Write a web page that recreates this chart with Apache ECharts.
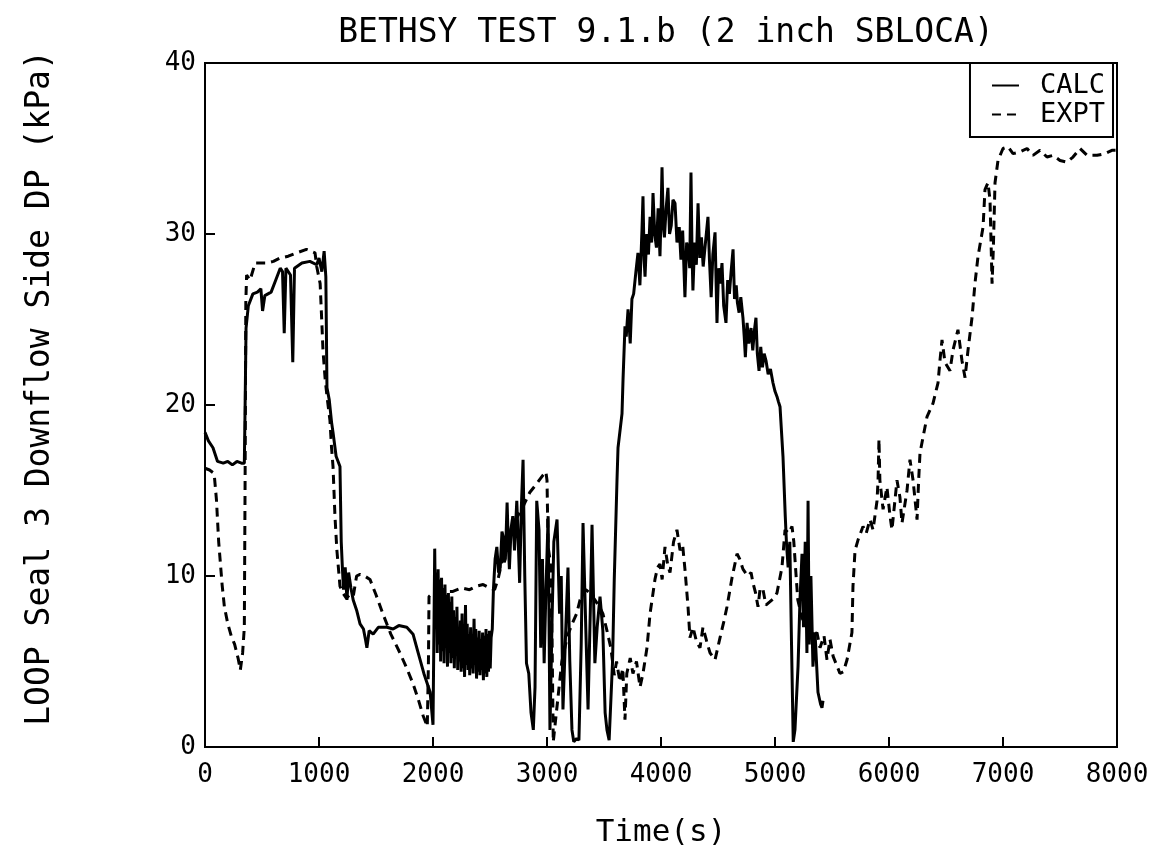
<!DOCTYPE html>
<html><head><meta charset="utf-8">
<script src="https://cdn.jsdelivr.net/npm/echarts@6/dist/echarts.min.js"></script>
<style>html,body{margin:0;padding:0;background:#fff}#c{width:1158px;height:860px}</style>
</head><body><div id="c"></div>
<script>
const titleText = 'BETHSY TEST 9.1.b (2 inch SBLOCA)';
const yName = 'LOOP Seal 3 Downflow Side DP (kPa)';
const xName = 'Time(s)';
const seriesNames = ['CALC', 'EXPT'];
const xTicks = [0, 1000, 2000, 3000, 4000, 5000, 6000, 7000, 8000];
const yTicks = [0, 10, 20, 30, 40];

const calcT = [0,30,70,110,160,200,240,280,320,345,352,360,380,420,460,490,505,525,580,620,660,680,695,710,750,770,785,850,920,980,1000,1025,1045,1060,1070,1090,1110,1123,1150,1184,1195,1205,1215,1230,1245,1260,1280,1300,1330,1360,1390,1410,1420,1440,1475,1520,1595,1650,1700,1770,1825,1870,1920,1975,2000,2010,
  2015,2022,2030,2037,2045,2052,2060,2067,2075,2082,2090,2097,2105,2112,2120,2127,2135,2142,2150,2157,2165,2172,2180,2187,2195,2202,2210,2217,2225,2232,2240,2247,2255,2262,2270,2277,2285,2292,2300,2307,2315,2322,2330,2337,2345,2352,2360,2367,2375,2382,2390,2397,2405,2412,2420,2427,2435,2442,2450,2457,2465,2472,2480,2487,2495,2502,2510,2520,
  2530,2545,2560,2575,2590,2605,2615,2625,2635,2650,2660,2670,2685,2700,2715,2735,2748,2760,2775,2790,2805,2820,2840,2860,2880,2895,2910,2930,2945,2960,2975,2990,3010,3026,3045,3060,3088,3110,3125,3140,3160,3184,3200,3219,3235,3260,3280,3300,3316,3340,3360,3380,3395,3420,3440,3465,3490,3510,3526,3545,3560,3575,3590,3614,3623,3658,3667,3684,3695,3711,3720,3730,3745,3760,3780,
  3798,3815,3833,3842,3852,3860,3875,3890,3904,3918,3930,3945,3960,3975,3991,4000,4009,4020,4030,4045,4061,4075,4090,4105,4123,4140,4160,4175,4190,4210,4225,4240,4252,4263,4272,4280,4295,4310,4325,4340,4355,4370,4390,4412,4425,4440,4455,4474,4491,4505,4520,4535,4550,4570,4585,4600,4615,4632,4645,4660,4670,4685,4700,4719,4730,4740,4755,4770,4790,4805,4820,4833,4845,4860,4875,4890,4905,4921,4940,4960,4982,5000,5017,5030,5044,
  5070,5090,5100,5115,5130,5145,5160,5175,5202,5219,5237,5250,5265,5280,5290,5300,5315,5333,5351,5377,5400,5412,5421];
const calcV = [18.4,17.9,17.5,16.7,16.6,16.7,16.5,16.7,16.6,16.6,20,24.5,25.8,26.5,26.6,26.8,25.5,26.4,26.6,27.3,28.0,27.8,24.2,28.0,27.6,22.5,28.0,28.3,28.4,28.2,28.6,27.8,29.0,27.5,21,20.3,19.0,18.4,17.0,16.4,12,10.5,9.2,10.5,8.6,10.2,9.3,8.6,8.0,7.2,6.9,6.2,5.8,6.8,6.6,7.0,7.0,6.9,7.1,7.0,6.6,5.5,4.3,3.2,1.3,8.0,
  11.6,7.5,10.2,5.5,10.4,6.0,9.8,5.0,9.9,5.6,9.3,4.9,9.5,5.8,8.9,4.7,9.0,5.5,8.5,4.9,8.8,5.2,8.0,4.6,7.6,5.5,8.2,4.5,7.0,5.0,7.4,4.4,7.8,4.6,6.9,4.1,8.3,4.8,7.2,4.5,6.6,4.2,7.0,4.6,6.5,4.3,7.5,4.8,6.9,4.0,6.4,4.4,6.8,4.2,6.3,4.5,6.7,3.9,6.5,4.3,6.9,4.1,6.6,4.4,6.8,4.6,6.4,6.9,
  9.2,11.0,11.7,10.2,10.5,12.6,12.3,10.8,11,14.3,12.0,10.4,12.8,13.5,11.5,14.4,12.0,9.6,14,16.8,10,4.9,4.3,2,1.0,3.5,14.4,12.7,5.8,11,4.9,9,13.5,1.0,7.6,12,13.3,7.8,10,2.2,6,10.5,5,1.0,0.3,0.5,0.4,6,13.1,7,2.2,8,13.0,4.9,7,8.8,6.8,2,1.0,0.4,0.4,5,9.8,15.6,17.5,19.5,21.5,24.6,24.0,25.6,24.8,23.6,26.2,26.5,27.8,
  28.9,27.0,30.2,32.2,28.5,27.5,30.0,28.8,31.0,29.5,32.4,30.0,29.2,31.5,28.7,31,33.9,30.5,29.8,31.5,32.7,30.0,30.5,32.0,31.8,29.5,30.4,28.5,30.2,26.3,29.5,29.1,28.0,33.6,29.0,26.7,29.5,28.2,31.8,28.6,29.8,28.1,29.5,31.0,28.5,26.3,28.8,30.1,24.8,28.0,27.1,28.3,25.8,24.8,27.3,26.5,27.8,29.1,26.2,27.0,26.0,25.4,26.3,25.1,24.0,22.8,24.8,23.6,24.5,23.2,24.4,25.1,23.0,22.0,23.4,22.2,23.0,22.6,21.8,22.1,21.3,20.8,20.5,20.2,19.9,
  17,13.5,12,10.5,12,6,0.3,1.0,4.7,8.6,11.3,7,12,5.5,14.4,6,10,4.7,6.7,3.2,2.5,2.3,2.7];

const exptT = [0,40,80,100,120,150,170,200,230,260,290,310,330,345,352,358,365,395,440,540,600,660,730,805,890,965,980,1010,1023,1035,1053,1070,1096,1110,1123,1140,1157,1184,1210,1240,1270,1300,1330,1360,1400,1447,1500,1560,1630,1710,1770,1825,1870,1915,1950,1960,1965,2000,2100,2175,2250,2320,2380,2440,2500,2540,2570,2610,2650,2700,2760,2800,2850,2910,2965,2990,3000,3010,3030,3045,3055,3090,3130,3180,3220,3260,3290,3340,3377,3420,3460,3490,3526,3560,3590,3610,3640,3665,3684,3700,3730,3754,3785,3816,3842,3877,3904,3930,3947,3970,3991,4010,4035,4060,4079,4110,4140,4167,4190,4210,4237,4254,4281,4310,4342,4368,4400,4430,4474,4518,4550,4579,4623,4667,4690,4719,4760,4790,4807,4830,4851,4870,4895,4920,4956,4990,5017,5061,5088,5120,5149,5165,5180,5200,5240,5290,5340,5368,5395,5430,5456,5482,5510,5570,5600,5632,5675,5684,5702,5728,5772,5800,5833,5860,5895,5904,5912,5920,5948,5982,6009,6026,6070,6096,6114,6158,6184,6211,6246,6260,6272,6298,6333,6386,6430,6447,6465,6491,6535,6561,6605,6640,6667,6693,6728,6754,6781,6825,6842,6868,6886,6904,6915,6930,6956,7000,7044,7088,7149,7211,7263,7325,7386,7439,7500,7561,7614,7675,7737,7825,7895,7960,8000];
const exptV = [16.3,16.2,16.0,14.5,12,9.5,8.2,7.2,6.5,6.0,5.2,4.5,5.5,7,16,26,27.6,27.3,28.3,28.3,28.4,28.6,28.7,28.9,29.1,28.9,28.1,27.1,25.1,23.2,21.6,20.5,19.1,17.5,16.4,13.5,11.5,9.4,9.0,8.7,8.9,8.8,10.0,10.1,10.0,9.8,8.9,7.8,6.6,5.5,4.6,3.7,2.8,1.8,1.2,5,8.8,9.0,9.1,9.1,9.3,9.2,9.4,9.5,9.3,9.2,9.8,11.0,12.1,13.0,13.7,14.2,14.9,15.4,15.9,16.1,15.6,11.7,10.8,6,0.3,2.5,5,6.5,7.2,7.8,8.6,9.2,9.0,8.6,8.2,7.8,6.8,5.8,4.2,5.0,3.8,4.6,1.6,4.3,5.2,4.3,5.0,3.5,4.3,5.8,7.8,9.0,9.8,10.5,10.7,9.8,11.7,10.6,10.2,12.0,12.7,11.5,11.8,10.4,8.2,6.4,7.0,6.2,5.8,7.0,6.2,5.5,5.1,6.4,7.3,8.2,9.9,11.3,11.0,10.4,10.0,10.2,9.6,9.0,8.2,9.3,9.2,8.3,8.5,8.7,9.0,10.5,12.7,12.5,12.9,12.0,10.5,8.6,7.5,7.0,6.5,6.7,5.8,6.5,5.1,6.3,5.3,4.3,4.4,5.1,6.7,9.4,11.5,12.1,12.9,12.5,13.3,12.7,14.4,15.6,18.0,15.6,13.9,15.2,13.5,12.7,15.6,14.6,13.1,15.0,16.8,15.6,13.3,15.6,17.2,18.1,19.3,20.1,21.3,22.6,23.8,22.5,22.0,23.2,24.4,22.6,21.6,23.2,25.1,27.1,28.7,30.4,32.6,33.0,32.0,27.1,29.1,33.0,34.3,35.0,35.1,34.7,34.8,35.0,34.6,34.9,34.5,34.6,34.3,34.2,34.5,35.0,34.6,34.6,34.7,34.9,34.9];

const FONT = 'DejaVu Sans Mono';
const zip = (a, b) => a.map((t, i) => [t, b[i]]);

const chart = echarts.init(document.getElementById('c'), null, {renderer: 'canvas'});
chart.setOption({
  backgroundColor: '#fff',
  animation: false,
  title: {
    text: titleText, left: 661, textAlign: 'center', top: 12,
    textStyle: {fontFamily: FONT, fontSize: 33, fontWeight: 'normal', color: '#000'}
  },
  legend: {
    orient: 'vertical', right: 45, top: 63,
    data: seriesNames,
    borderColor: '#000', borderWidth: 2, borderRadius: 0,
    padding: [9, 8, 9, 21], itemGap: 2, itemWidth: 27, itemHeight: 14,
    itemStyle: {opacity: 0},
    textStyle: {fontFamily: FONT, fontSize: 27, color: '#000', lineHeight: 27, padding: [0, 0, 0, 16]}
  },
  grid: {left: 205, right: 41, top: 63, bottom: 113, show: true, borderColor: '#000', borderWidth: 2, backgroundColor: 'transparent'},
  xAxis: {
    type: 'value', min: xTicks[0], max: xTicks[xTicks.length - 1], interval: 1000,
    name: xName, nameLocation: 'middle', nameGap: 70,
    nameTextStyle: {fontFamily: FONT, fontSize: 31, color: '#000'},
    axisLine: {show: true, lineStyle: {color: '#000', width: 2}},
    axisTick: {show: true, inside: true, length: 10, lineStyle: {color: '#000', width: 2}},
    axisLabel: {fontFamily: FONT, fontSize: 26, color: '#000', margin: 15, showMaxLabel: true, showMinLabel: true,
      formatter: v => String(v)},
    splitLine: {show: false}
  },
  yAxis: {
    type: 'value', min: yTicks[0], max: yTicks[yTicks.length - 1], interval: 10,
    axisLine: {show: true, lineStyle: {color: '#000', width: 2}},
    axisTick: {show: true, inside: true, length: 10, lineStyle: {color: '#000', width: 2}},
    axisLabel: {fontFamily: FONT, fontSize: 26, color: '#000', margin: 9, formatter: v => String(v)},
    splitLine: {show: false}
  },
  graphic: [{
    type: 'text', x: 40, y: 388, rotation: Math.PI / 2,
    style: {text: yName, font: '33px "DejaVu Sans Mono"', fill: '#000', align: 'center', verticalAlign: 'middle'}
  }],
  series: [
    {name: seriesNames[0], type: 'line', data: zip(calcT, calcV), symbol: 'none', showSymbol: false,
     lineStyle: {color: '#000', width: 3, type: 'solid'}, itemStyle: {color: '#000'}, z: 3},
    {name: seriesNames[1], type: 'line', data: zip(exptT, exptV), symbol: 'none', showSymbol: false,
     lineStyle: {color: '#000', width: 3, type: [9, 6]}, itemStyle: {color: '#000'}, z: 2}
  ]
});
</script></body></html>
